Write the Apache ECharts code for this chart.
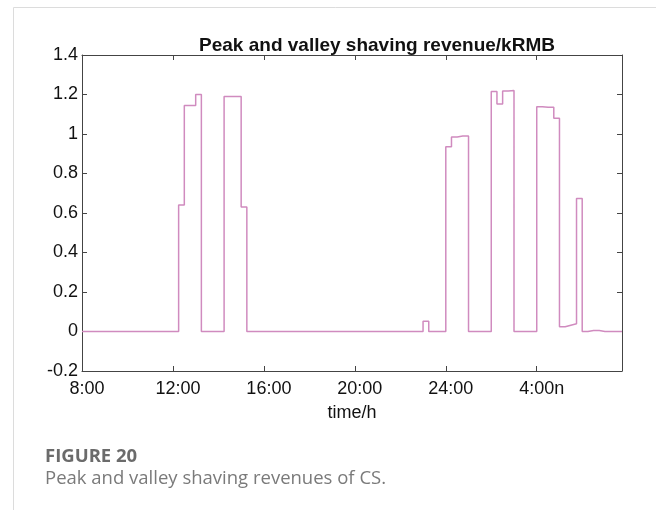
<!DOCTYPE html>
<html>
<head>
<meta charset="utf-8">
<script src="https://cdn.jsdelivr.net/npm/echarts@6/dist/echarts.min.js"></script>
<style>
html,body{margin:0;padding:0;background:#fff;}
#chart{width:656px;height:510px;}
</style>
</head>
<body>
<div id="chart"></div>
<script>
// 15-minute slots starting at 8:00 (index 0) ; value of slot i held until i+1
var slotIndex = [0,1,2,3,4,5,6,7,8,9,10,11,12,13,14,15,16,17,18,19,20,21,22,23,24,25,26,27,28,29,30,31,32,33,34,35,36,37,38,39,40,41,42,43,44,45,46,47,48,49,50,51,52,53,54,55,56,57,58,59,60,61,62,63,64,65,66,67,68,69,70,71,72,73,74,75,76,77,78,79,80,81,82,83,84,85,86,87,88,89,90,91,92,93,94,95];
var revenue = [
  0,0,0,0,0,0,0,0,0,0,0,0,0,0,0,0,0,
  0.64,1.144,1.144,1.20,
  0,0,0,0,
  1.19,1.19,1.19,0.63,
  0,0,0,0,0,0,0,0,0,0,0,0,0,0,0,0,0,0,0,0,0,0,0,0,0,0,0,0,0,0,0,
  0.052,0,0,0,
  0.935,0.985,0.99,0.99,
  0,0,0,0,
  1.215,1.152,1.218,1.22,
  0,0,0,0,
  1.138,1.135,1.135,1.08,
  0.024,0.032,0.039,0.673,
  0,0.005,0.005,0,0,0,0,0
];
var xTickValues = [0,16,32,48,64,80];
var xTickLabels = ['8:00','12:00','16:00','20:00','24:00','4:00n'];
var chartTitle = 'Peak and valley shaving revenue/kRMB';
var xName = 'time/h';
var figLabel = 'FIGURE 20';
var figCaption = 'Peak and valley shaving revenues of CS.';

var seriesData = slotIndex.map(function(x, i){ return [x, revenue[i]]; });

var chart = echarts.init(document.getElementById('chart'), null, {renderer:'canvas'});
var axisColor = '#444';
var fontFam = 'Liberation Sans, Arial, sans-serif';
function xLab(v){ var k = xTickValues.indexOf(v); return k >= 0 ? xTickLabels[k] : ''; }

var option = {
  animation: false,
  backgroundColor: '#fff',
  grid: {left: 82, right: 34, top: 55, bottom: 139, containLabel: false},
  title: {
    text: chartTitle, left: 372, top: 31, textAlign: 'center',
    textStyle: {fontFamily: fontFam, fontSize: 19, fontWeight: 'bold', color: '#111'}
  },
  xAxis: [{
    type: 'value', min: 0, max: 95, interval: 16, position: 'bottom',
    name: xName, nameLocation: 'middle', nameGap: 33,
    nameTextStyle: {fontFamily: fontFam, fontSize: 18, color: '#111'},
    axisLine: {show: true, onZero: false, lineStyle: {color: axisColor}},
    axisTick: {show: true, inside: true, length: 5, lineStyle: {color: axisColor}},
    axisLabel: {formatter: xLab, showMaxLabel: false, fontFamily: fontFam, fontSize: 18, color: '#111', margin: 9, padding: [0,0,0,10]},
    splitLine: {show: false}
  },{
    type: 'value', min: 0, max: 95, interval: 16, position: 'top',
    axisLine: {show: true, onZero: false, lineStyle: {color: axisColor}},
    axisTick: {show: true, inside: true, length: 5, lineStyle: {color: axisColor}},
    axisLabel: {show: false}, splitLine: {show: false}
  }],
  yAxis: [{
    type: 'value', min: -0.2, max: 1.4, interval: 0.2, position: 'left',
    axisLine: {show: true, onZero: false, lineStyle: {color: axisColor}},
    axisTick: {show: true, inside: true, length: 5, lineStyle: {color: axisColor}},
    axisLabel: {fontFamily: fontFam, fontSize: 18, color: '#111', margin: 4},
    splitLine: {show: false}
  },{
    type: 'value', min: -0.2, max: 1.4, interval: 0.2, position: 'right',
    axisLine: {show: true, onZero: false, lineStyle: {color: axisColor}},
    axisTick: {show: true, inside: true, length: 5, lineStyle: {color: axisColor}},
    axisLabel: {show: false}, splitLine: {show: false}
  }],
  series: [{
    type: 'line', step: 'end', data: seriesData, showSymbol: false,
    xAxisIndex: 0, yAxisIndex: 0,
    lineStyle: {color: '#d08bbf', width: 1.5}
  }],
  graphic: [
    {type: 'rect', shape: {x: 13.5, y: 7.5, width: 700, height: 600}, style: {fill: 'none', stroke: '#dcdcdc', lineWidth: 1}, silent: true},
    {type: 'text', left: 45, top: 447, style: {text: figLabel, font: 'bold 18.5px "Open Sans", sans-serif', fill: '#6b6b6b'}},
    {type: 'text', left: 45, top: 469, style: {text: figCaption, font: '18.5px "Open Sans", sans-serif', fill: '#7a7a7a'}}
  ]
};
chart.setOption(option);
</script>
</body>
</html>
